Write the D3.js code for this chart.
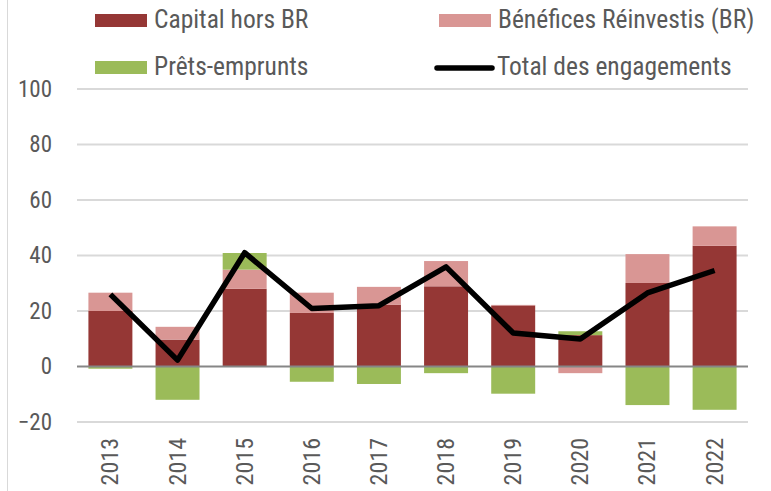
<!DOCTYPE html>
<html>
<head>
  <meta charset="utf-8">
  <script src="https://d3js.org/d3.v7.min.js"></script>
  <style>
    body { margin: 0; background: white; }
    text { font-family: "Liberation Sans Narrow", "Roboto Condensed", "Open Sans", sans-serif; fill: #595959; }
  </style>
</head>
<body>
<div id="chart"></div>
<script>
  // data
  var years = ["2013","2014","2015","2016","2017","2018","2019","2020","2021","2022"];
  var capital = [20, 9.7, 28, 19.3, 22.2, 28.9, 22, 11.3, 30.1, 43.5];
  var benefices = [6.6, 4.6, 6.9, 7.3, 6.5, 9.1, 0.2, -2.4, 10.4, 7];
  var prets = [-0.8, -12, 6, -5.5, -6.3, -2.4, -9.8, 1.4, -13.9, -15.6];
  var total = [26, 2.3, 41, 20.9, 21.9, 35.9, 12.1, 9.9, 26.5, 34.6];
  var yTicks = [-20, 0, 20, 40, 60, 80, 100];

  var seriesNames = ["Capital hors BR", "Bénéfices Réinvestis (BR)", "Prêts-emprunts"];
  var seriesColors = ["#953735", "#D99694", "#9BBB59"];
  var seriesValues = [capital, benefices, prets];

  var W = 771, H = 491;
  var margin = {top: 89, right: 23, bottom: 69, left: 77};
  var width = W - margin.left - margin.right,
      height = H - margin.top - margin.bottom;

  var svg = d3.select("#chart").append("svg")
    .attr("width", W).attr("height", H);

  // left frame line
  svg.append("line").attr("x1", 7.5).attr("x2", 7.5).attr("y1", 0).attr("y2", H)
    .attr("stroke", "#d9d9d9").attr("stroke-width", 1);

  var g = svg.append("g").attr("transform", "translate(" + margin.left + "," + margin.top + ")");

  var x = d3.scaleBand().domain(years).range([0, width]).paddingInner(0.345).paddingOuter(0.17);
  var y = d3.scaleLinear().domain([-20, 100]).range([height, 0]);

  // gridlines
  g.selectAll(".grid").data(yTicks.filter(function (d) { return d !== 0; }))
    .enter().append("line")
      .attr("x1", 0).attr("x2", width)
      .attr("y1", function (d) { return y(d); }).attr("y2", function (d) { return y(d); })
      .attr("stroke", "#d9d9d9").attr("stroke-width", 2);

  // y tick labels
  var yAxis = g.append("g").call(d3.axisLeft(y).tickValues(yTicks).tickSize(0).tickPadding(25));
  yAxis.select(".domain").remove();
  yAxis.selectAll("text").style("font-size", "23px").attr("fill", "#595959");

  // stacked bars (positives up, negatives down, like Excel)
  var stacks = years.map(function () { return {pos: 0, neg: 0}; });
  seriesValues.forEach(function (vals, s) {
    g.append("g").selectAll("rect").data(vals).enter().append("rect")
      .attr("x", function (d, i) { return x(years[i]); })
      .attr("width", x.bandwidth())
      .attr("y", function (d, i) {
        var st = stacks[i];
        if (d >= 0) { var top = st.pos + d; var r = y(top); this.__h = y(st.pos) - r; st.pos = top; return r; }
        else { var r2 = y(st.neg); var bot = st.neg + d; this.__h = y(bot) - r2; st.neg = bot; return r2; }
      })
      .attr("height", function () { return this.__h; })
      .attr("fill", seriesColors[s]);
  });

  // zero line
  g.append("line").attr("x1", 0).attr("x2", width).attr("y1", y(0)).attr("y2", y(0))
    .attr("stroke", "#868686").attr("stroke-width", 2);

  // total line
  var line = d3.line()
    .x(function (d, i) { return x(years[i]) + x.bandwidth() / 2; })
    .y(function (d) { return y(d); });
  g.append("path").datum(total).attr("d", line)
    .attr("fill", "none").attr("stroke", "#000").attr("stroke-width", 5.5)
    .attr("stroke-linejoin", "round");

  // x labels, rotated
  g.selectAll(".xl").data(years).enter().append("text")
    .attr("transform", function (d) {
      return "translate(" + (x(d) + x.bandwidth() / 2 + 8) + "," + (height + 16) + ") rotate(-90)";
    })
    .attr("text-anchor", "end")
    .style("font-size", "24px")
    .text(function (d) { return d; });

  // legend
  var legendItems = [
    {name: seriesNames[0], color: seriesColors[0], type: "rect", x: 95, y: 20.5},
    {name: seriesNames[1], color: seriesColors[1], type: "rect", x: 439, y: 20.5},
    {name: seriesNames[2], color: seriesColors[2], type: "rect", x: 95, y: 67.5},
    {name: "Total des engagements", color: "#000", type: "line", x: 437, y: 68}
  ];
  var lg = svg.append("g");
  legendItems.forEach(function (it) {
    if (it.type === "rect") {
      lg.append("rect").attr("x", it.x).attr("y", it.y - 6.5).attr("width", 52).attr("height", 13).attr("fill", it.color);
    } else {
      lg.append("line").attr("x1", it.x).attr("x2", it.x + 55).attr("y1", it.y).attr("y2", it.y)
        .attr("stroke", it.color).attr("stroke-width", 5.5).attr("stroke-linecap", "round");
    }
    lg.append("text").attr("x", it.type === "rect" ? it.x + 59 : it.x + 60).attr("y", it.y - 1.5)
      .attr("dy", "0.35em").style("font-size", "25.5px").text(it.name);
  });
</script>
</body>
</html>
